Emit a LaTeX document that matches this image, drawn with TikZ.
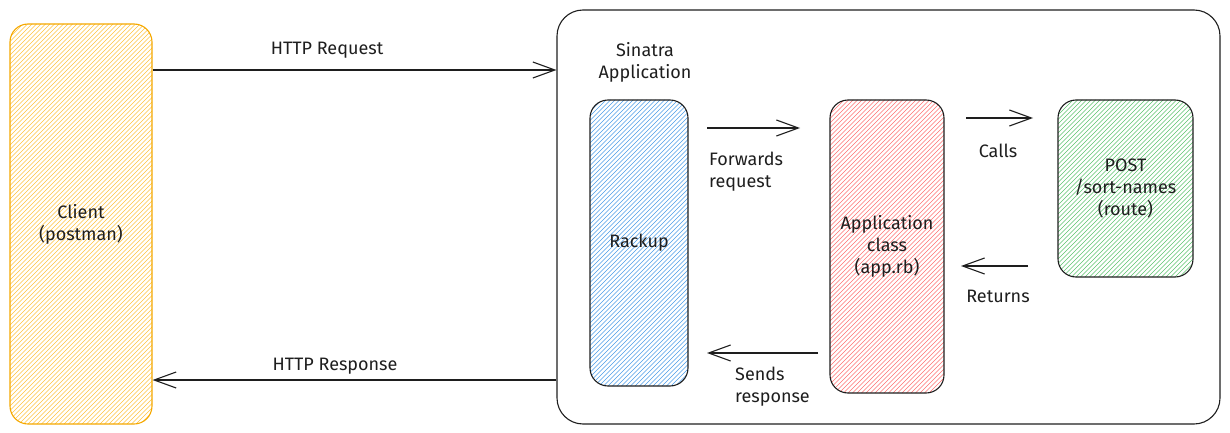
\documentclass[tikz,border=0pt]{standalone}
\usepackage{fontspec}
\setmainfont{Fira Sans}
\usetikzlibrary{arrows.meta,calc}
\definecolor{ink}{HTML}{1E1E1E}
\definecolor{clientstroke}{HTML}{F5A800}
\definecolor{clienthatch}{HTML}{FFC23D}
\definecolor{rackhatch}{HTML}{4A9BE8}
\definecolor{apphatch}{HTML}{FF7070}
\definecolor{posthatch}{HTML}{5CC26E}
\tikzset{
  box/.style={rounded corners=18pt, line width=1.1pt, draw=ink, inner sep=0pt,
    align=center, font=\fontsize{18}{22}\selectfont, text=ink},
  hatch/.style={path picture={
      \foreach \k in {-450,-445.5,...,170}
        \draw[#1, line width=0.65pt] ($(path picture bounding box.south west)+(\k,0)$) -- ++(460,-460);}},
  arr/.style={line width=1.1pt, draw=ink, -{Straight Barb[length=22pt,width=16pt,line width=1.1pt]}},
  lbl/.style={font=\fontsize{18}{22}\selectfont, text=ink, align=left, inner sep=0pt}
}
\begin{document}
\begin{tikzpicture}[x=1pt,y=-1pt]
\useasboundingbox (0,0) rectangle (1230,433);
% outer container
\node[box, rounded corners=26pt, minimum width=663pt, minimum height=414pt] (outer) at (888.5,217) {};
% client
\node[box, draw=clientstroke, hatch=clienthatch, minimum width=142pt, minimum height=400pt] (client) at (81,224) {Client\\(postman)};
% rackup
\node[box, hatch=rackhatch, minimum width=98pt, minimum height=286pt] (rack) at (639,243) {Rackup};
% application class
\node[box, hatch=apphatch, minimum width=114pt, minimum height=293pt] (app) at (887,246.5) {Application\\class\\(app.rb)};
% post route
\node[box, hatch=posthatch, minimum width=135pt, minimum height=177pt] (post) at (1125.5,188.5) {POST\\/sort-names\\(route)};
% labels
\node[lbl, align=center] (sin) at (645,62) {Sinatra\\Application};
\node[lbl] (lreq) at (327,50) {HTTP Request};
\node[lbl] (lres) at (335,366) {HTTP Response};
\node[lbl, anchor=west] (lfwd) at (709,172) {Forwards\\request};
\node[lbl, anchor=west] (lsend) at (735,387) {Sends\\response};
\node[lbl] (lcalls) at (998,151) {Calls};
\node[lbl] (lret) at (998,296) {Returns};
% coordinates for free ends
\coordinate (f1) at (707,128); \coordinate (f2) at (800,128);
\coordinate (s1) at (818,353); \coordinate (s2) at (707,353);
\coordinate (c1) at (966,118); \coordinate (c2) at (1033,118);
\coordinate (r1) at (1028,266); \coordinate (r2) at (961,266);
% arrows
\draw[arr] (client.east |- 0,70) -- (outer.west |- 0,70);
\draw[arr] (outer.west |- 0,380) -- (client.east |- 0,380);
\draw[arr] (f1) -- (f2);
\draw[arr] (s1) -- (s2);
\draw[arr] (c1) -- (c2);
\draw[arr] (r1) -- (r2);
\end{tikzpicture}
\end{document}
